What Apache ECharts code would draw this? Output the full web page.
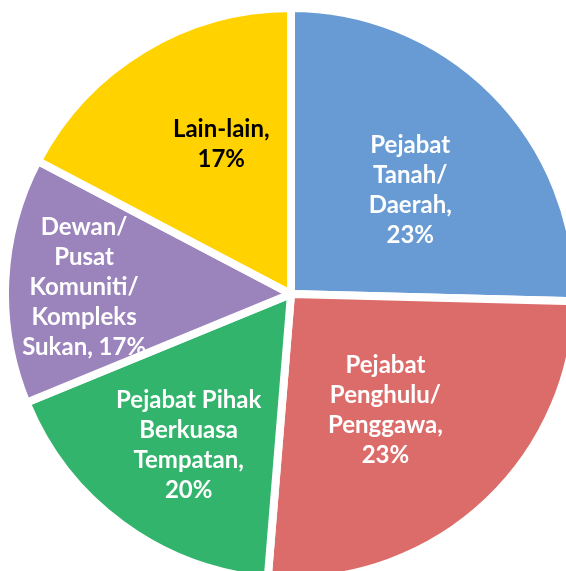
<!DOCTYPE html>
<html lang="ms" style="width: 100%; height: 100%">
<head>
  <meta charset="utf-8">
</head>
<body style="margin: 0; width: 566px; height: 571px; background: #fff">
  <div id="container" style="width: 566px; height: 571px"></div>

  <script type="text/javascript" src="https://cdn.jsdelivr.net/npm/echarts@6/dist/echarts.min.js"></script>
  <script type="text/javascript">

// kategori (ikut arah jam dari atas)
var categories = ['Pejabat Tanah/Daerah', 'Pejabat Penghulu/Penggawa', 'Pejabat Pihak Berkuasa Tempatan',
                  'Dewan/Pusat Komuniti/Kompleks Sukan', 'Lain-lain'];
// saiz hirisan seperti yang dilukis dalam gambar (%)
var shares = [25.4, 25.9, 17.5, 13.9, 17.3];
// teks label seperti yang tertulis
var labelText = [
  'Pejabat\nTanah/\nDaerah,\n23%',
  'Pejabat\nPenghulu/\nPenggawa,\n23%',
  'Pejabat Pihak\nBerkuasa\nTempatan,\n20%',
  'Dewan/\nPusat\nKomuniti/\nKompleks\nSukan, 17%',
  'Lain-lain,\n17%'
];
var colors = ['#689BD3', '#DB6C6A', '#32B46C', '#9B83BC', '#FFD200'];
var labelColors = ['#fff', '#fff', '#fff', '#fff', '#000'];
// label position: [distance from centre, angle clockwise from top]
var labelPolar = [[158, 49], [150, 141], [183, 214], [207, 272], [165, 335]];

var cx = 291, cy = 294;

var dom = document.getElementById('container');
var myChart = echarts.init(dom, null, { renderer: 'canvas' });

var data = categories.map(function (c, i) {
  return {
    name: c,
    value: shares[i],
    itemStyle: { color: colors[i] },
    label: { color: labelColors[i] }
  };
});

var option = {
  animation: false,
  series: [{
    type: 'pie',
    center: [cx, cy],
    radius: 286,
    startAngle: 90,
    clockwise: true,
    avoidLabelOverlap: false,
    itemStyle: {
      borderColor: '#fff',
      borderWidth: 8
    },
    label: {
      show: true,
      position: 'inside',
      formatter: function (p) { return labelText[p.dataIndex]; },
      fontFamily: 'Lato',
      fontWeight: 'bold',
      fontSize: 24,
      lineHeight: 30,
      align: 'center',
      verticalAlign: 'middle'
    },
    labelLayout: function (p) {
      var lp = labelPolar[p.dataIndex];
      var a = lp[1] * Math.PI / 180;
      return {
        x: cx + lp[0] * Math.sin(a),
        y: cy - lp[0] * Math.cos(a),
        align: 'center',
        verticalAlign: 'middle'
      };
    },
    emphasis: { disabled: true },
    data: data
  }]
};

myChart.setOption(option);

  </script>
</body>
</html>
